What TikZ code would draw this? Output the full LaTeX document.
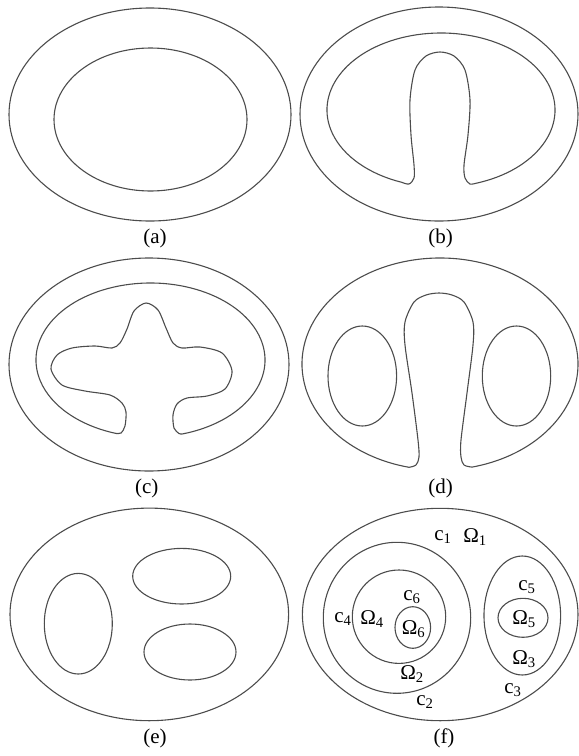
\documentclass[tikz,border=0pt]{standalone}
\usepackage{fontspec}
\setmainfont{Liberation Serif}
\begin{document}
\begin{tikzpicture}[x=1pt,y=-1pt,
    curve/.style={draw=black!70,line width=1.1pt},
    lab/.style={font=\fontsize{21}{24}\selectfont,inner sep=0pt}]
  \useasboundingbox (0,0) rectangle (579,756);

  % (a) two nested ellipses
  \draw[curve] (150,114.5) ellipse [x radius=141, y radius=106.5];
  \draw[curve] (150.5,119.5) ellipse [x radius=96.5, y radius=71.5];
  \node[lab] (capa) at (155,238) {(a)};

  % (b) inner boundary with a finger
  \draw[curve] (439,114) ellipse [x radius=139, y radius=107];
  \draw[curve] (441,110) ++(72:114 and 77)
    arc[start angle=72, end angle=-250, x radius=114, y radius=77]
    -- plot[smooth] coordinates {(402,182.4) (409,184) (414,178) (414,165)
      (411,135) (410,100) (415,70) (426,56) (440,52) (454,56) (465,70)
      (470,100) (468,135) (464,165) (465,178) (470,184) (476.2,183.2)}
    -- cycle;
  \node[lab] (capb) at (440.7,238) {(b)};

  % (c) inner boundary with a cross
  \draw[curve] (149,364.5) ellipse [x radius=140, y radius=106.5];
  \draw[curve] (150.5,360) ++(74:114.5 and 77)
    arc[start angle=74, end angle=-252.5, x radius=114.5, y radius=77]
    -- plot[smooth] coordinates {(116.1,433.4) (121,433) (125,426) (126,412)
      (122,403) (110,395) (85,391) (62,385) (51,369) (57,355) (72,348)
      (95,346) (112,348) (120,343) (127,329) (134,311) (146,303) (158,310)
      (166,328) (173,343) (182,348) (200,347) (222,353) (232,371) (225,389)
      (207,396) (187,398) (177,404) (173,415) (174,428) (179,433.5) (182,434)}
    -- cycle;
  \node[lab] (capc) at (146.7,488) {(c)};

  % (d) keyhole and two ellipses
  \draw[curve] (440,364) ++(76.6:138 and 106)
    arc[start angle=76.6, end angle=-257, x radius=138, y radius=106]
    -- plot[smooth] coordinates {(409,467.3) (416,465) (419,457) (418,440)
      (412,393) (405,345) (405,322) (414,302) (426,295) (439,293) (452,295)
      (464,302) (473,322) (473,345) (467,393) (461,440) (461,457) (464,465)
      (472,467.1)}
    -- cycle;
  \draw[curve] (362.3,376) ellipse [x radius=34.3, y radius=50];
  \draw[curve] (516.5,376) ellipse [x radius=34.2, y radius=50];
  \node[lab] (capd) at (440.7,488) {(d)};

  % (e) three holes
  \draw[curve] (149.3,614.4) ellipse [x radius=139.3, y radius=106.3];
  \draw[curve] (78.3,623.7) ellipse [x radius=34, y radius=50.3];
  \draw[curve] (181.7,576.2) ellipse [x radius=49, y radius=27.8];
  \draw[curve] (190,652) ellipse [x radius=46, y radius=28];
  \node[lab] (cape) at (155,738) {(e)};

  % (f) nested regions with labels
  \draw[curve] (440.2,614.5) ellipse [x radius=137.8, y radius=106.2];
  \draw[curve] (397,617.8) ellipse [x radius=73.7, y radius=75.5];
  \draw[curve] (399,616.7) ellipse [x radius=46.7, y radius=46.7];
  \draw[curve] (412.8,627.5) ellipse [x radius=17.8, y radius=20.8];
  \draw[curve] (522.3,615.5) ellipse [x radius=38.3, y radius=59.5];
  \draw[curve] (523,617.8) ellipse [x radius=25, y radius=19.5];
  \node[lab] (c1) at (443,537) {c\textsubscript{1}};
  \node[lab] (om1) at (475,537) {Ω\textsubscript{1}};
  \node[lab] (c6) at (412,597) {c\textsubscript{6}};
  \node[lab] (c4) at (343,619) {c\textsubscript{4}};
  \node[lab] (om4) at (372,619) {Ω\textsubscript{4}};
  \node[lab] (om6) at (413.5,629) {Ω\textsubscript{6}};
  \node[lab] (om2) at (412,674) {Ω\textsubscript{2}};
  \node[lab] (c2) at (425,702) {c\textsubscript{2}};
  \node[lab] (c5) at (527,587) {c\textsubscript{5}};
  \node[lab] (om5) at (524,619) {Ω\textsubscript{5}};
  \node[lab] (om3) at (524,659.5) {Ω\textsubscript{3}};
  \node[lab] (c3) at (513,690.5) {c\textsubscript{3}};
  \node[lab] (capf) at (444,738) {(f)};
\end{tikzpicture}
\end{document}
